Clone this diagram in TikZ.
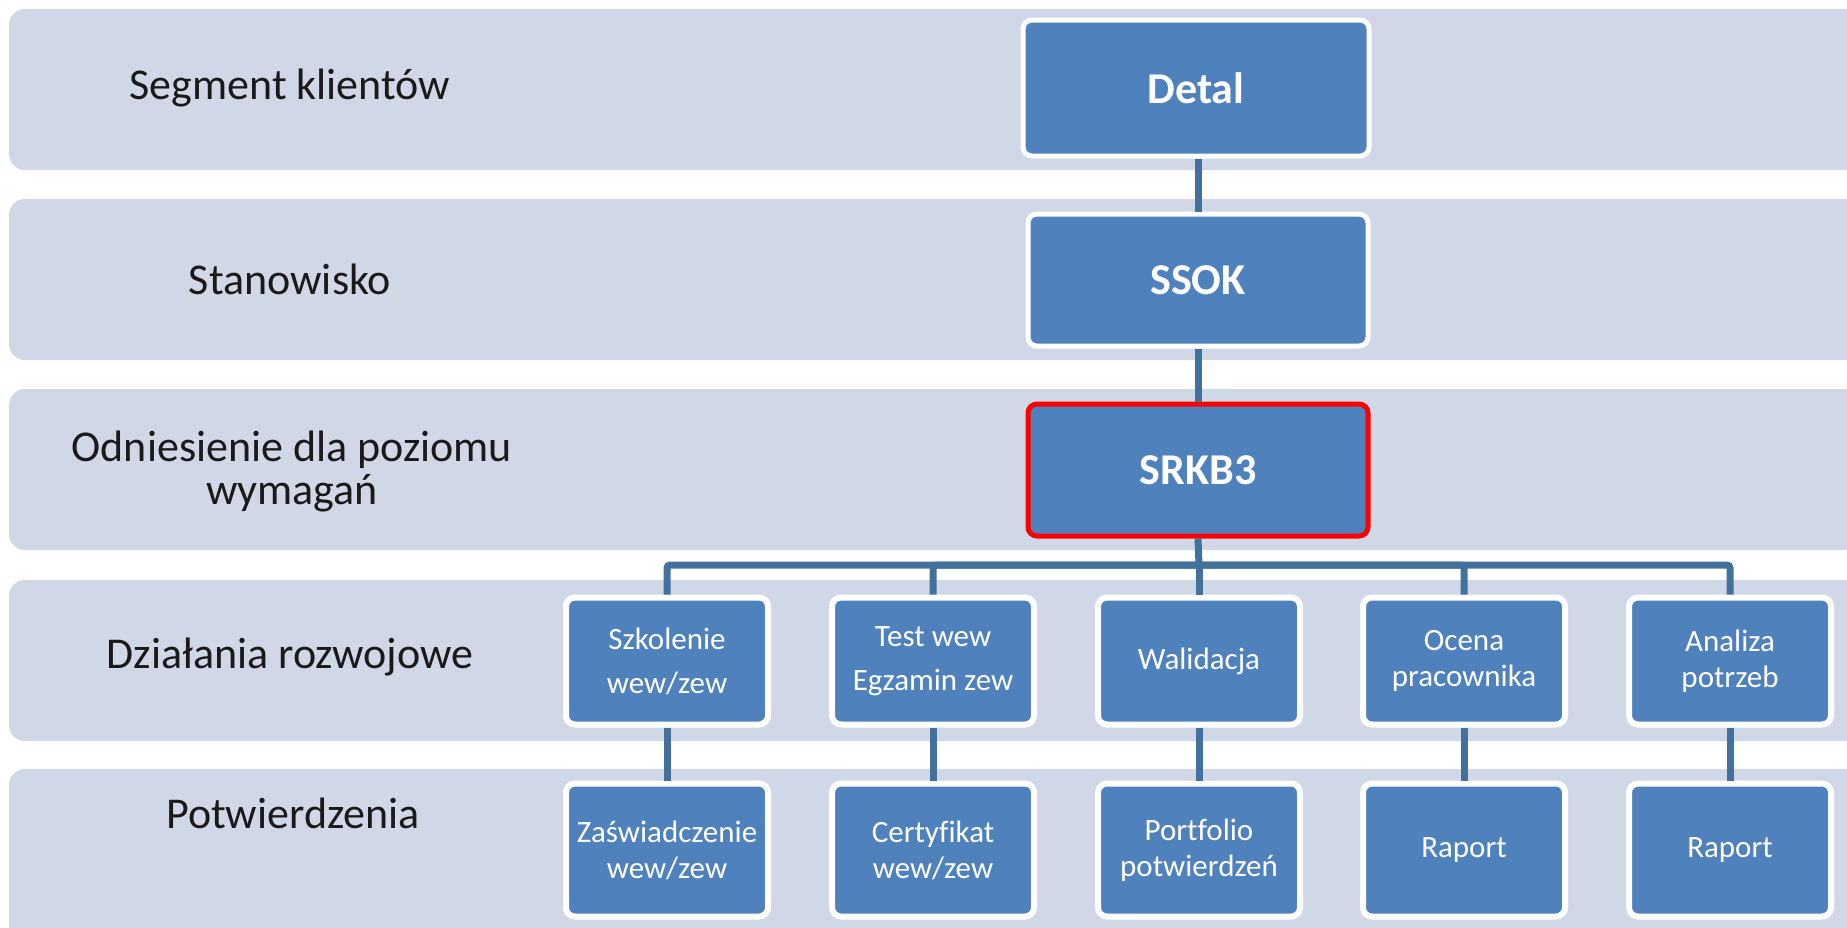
\documentclass[tikz,border=0pt]{standalone}
\usepackage{fontspec}
\setmainfont{Carlito}[Ligatures=NoCommon]
\definecolor{bandfill}{HTML}{D0D8E8}
\definecolor{boxfill}{HTML}{4F81BD}
\definecolor{linkcol}{HTML}{41719C}
\definecolor{lbltext}{HTML}{1A1A1A}
\tikzset{
  band/.style={fill=bandfill, rounded corners=16pt},
  lbl/.style={text=lbltext, align=center, font=\fontsize{44}{43}\selectfont, inner sep=0pt},
  topbox/.style={fill=boxfill, draw=white, line width=5pt, rounded corners=9pt,
    minimum width=340pt, minimum height=132pt, text=white, inner sep=0pt,
    font=\fontsize{44}{46}\selectfont\bfseries},
  keybox/.style={topbox, draw=red},
  childbox/.style={fill=boxfill, draw=white, line width=6pt, rounded corners=9pt,
    minimum width=202pt, minimum height=127pt, text=white, align=center, inner sep=0pt,
    font=\fontsize{31}{36}\selectfont},
  proofbox/.style={childbox, minimum height=133pt},
  link/.style={draw=linkcol, line width=7pt, rounded corners=3pt}
}
\begin{document}
\begin{tikzpicture}[x=1pt,y=-1pt]
\useasboundingbox (0,0) rectangle (1847,927);
\clip (0,0) rectangle (1847,927);
% bands
\path[band] (9,9) rectangle (1880,170);
\path[band] (9,199) rectangle (1880,360);
\path[band] (9,389) rectangle (1880,550);
\path[band] (9,580) rectangle (1880,741);
\path[band] (9,769) rectangle (1880,960);
% row labels
\node[lbl] (l1) at (290,88) {Segment klientów};
\node[lbl] (l2) at (290,279) {Stanowisko};
\node[lbl] (l3) at (292,471) {Odniesienie dla poziomu\\wymagań};
\node[lbl] (l4) at (290,657) {Działania rozwojowe};
\node[lbl] (l5) at (293,813) {Potwierdzenia};
% top chain
\node[topbox, minimum width=346pt, minimum height=136pt] (detal) at (1196,88) {Detal};
\node[topbox] (ssok) at (1198,280) {SSOK};
\node[keybox] (srkb) at (1198,470) {SRKB3};
% development actions
\node[childbox] (a1) at (667,661) {Szkolenie\\[8pt]wew/zew};
\node[childbox] (a2) at (933,661) {Test wew\\[8pt]Egzamin zew};
\node[childbox] (a3) at (1199,661) {Walidacja};
\node[childbox] (a4) at (1464,661) {Ocena\\pracownika};
\node[childbox] (a5) at (1730,661) {Analiza\\potrzeb};
% confirmations
\node[proofbox] (p1) at (667,850) {Zaświadczenie\\wew/zew};
\node[proofbox] (p2) at (933,850) {Certyfikat\\wew/zew};
\node[proofbox] (p3) at (1199,850) {Portfolio\\potwierdzeń};
\node[proofbox] (p4) at (1464,850) {Raport};
\node[proofbox] (p5) at (1730,850) {Raport};
% connectors
\coordinate (bus) at (1199,565);
\draw[link] (detal.south -| ssok.north) -- (ssok.north);
\draw[link] (ssok) -- (srkb);
\draw[link] (srkb.south) -- (bus);
\foreach \i in {1,...,5}{
  \draw[link] (a\i.north) |- (bus);
  \draw[link] (a\i.south) -- (p\i.north);
}
\end{tikzpicture}
\end{document}
